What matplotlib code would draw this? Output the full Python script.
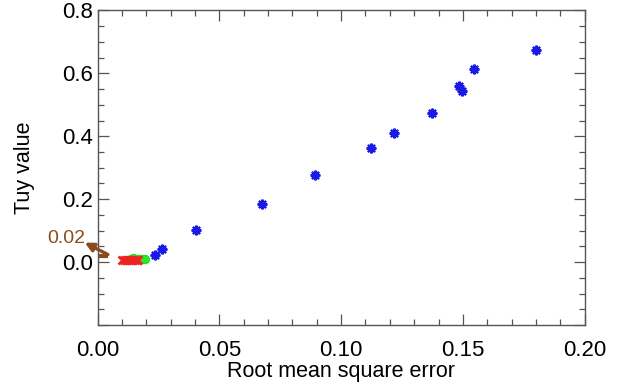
import matplotlib
matplotlib.use("Agg")
import matplotlib.pyplot as plt
from matplotlib.ticker import MultipleLocator, FixedLocator

plt.rcParams['font.family'] = ['Liberation Sans', 'DejaVu Sans']

# Data
blue_x = [0.180, 0.1546, 0.1483, 0.1497, 0.1372, 0.1217, 0.1121, 0.0894, 0.0674, 0.0405, 0.0264, 0.0234]
blue_y = [0.674, 0.615, 0.559, 0.544, 0.473, 0.410, 0.364, 0.278, 0.185, 0.102, 0.043, 0.023]
green_x = [0.0135, 0.0145, 0.0155, 0.0165, 0.0175, 0.0185, 0.0195]
green_y = [0.011, 0.012, 0.011, 0.010, 0.011, 0.010, 0.010]
red_x = [0.0100, 0.0108, 0.0115, 0.0122, 0.0130, 0.0137, 0.0145, 0.0152, 0.0160, 0.0167]
red_y = [0.007, 0.008, 0.007, 0.008, 0.007, 0.008, 0.007, 0.008, 0.007, 0.008]
x_ticks = [0.00, 0.05, 0.10, 0.15, 0.20]
x_ticklabels = ['0.00', '0.05', '0.10', '0.15', '0.20']
y_ticks = [0.0, 0.2, 0.4, 0.6, 0.8]
y_ticklabels = ['0.0', '0.2', '0.4', '0.6', '0.8']
mark_value = 0.02
mark_label = '0.02'

fig = plt.figure(figsize=(6.18, 3.86), dpi=100)
ax = fig.add_axes([0.158, 0.158, 0.788, 0.815])

brown = '#8C4B1C'
ax.plot(green_x, green_y, 'o', color='#22DD22', ms=5.5, mew=1.2, mfc='none', ls='none')
ax.plot(green_x, green_y, 'o', color='#22EE22', ms=3.5, ls='none')
ax.plot(red_x, red_y, 'x', color='#EE2222', ms=5.5, mew=1.8, ls='none')
ax.plot(blue_x, blue_y, marker=(8, 2, 0), color='#1A1AE6', ms=7, mew=1.6, ls='none')
ax.plot(blue_x, blue_y, 's', color='#1A1AE6', ms=3, ls='none')

ax.set_xlim(0, 0.2)
ax.set_ylim(-0.2, 0.8)
ax.xaxis.set_major_locator(FixedLocator(x_ticks))
ax.set_xticklabels(x_ticklabels)
ax.xaxis.set_minor_locator(MultipleLocator(0.01))
ax.yaxis.set_minor_locator(MultipleLocator(0.05))
ax.set_yticks([-0.2] + y_ticks)
ax.set_yticklabels([''] + y_ticklabels)
ax.tick_params(which='both', direction='in', top=True, right=True, colors='#555555',
               labelcolor='black', labelsize=16, width=0.9)
ax.tick_params(which='major', length=8)
ax.tick_params(axis='x', which='major', pad=11)
ax.tick_params(axis='y', which='major', pad=3)
ax.tick_params(which='minor', length=4)
for s in ax.spines.values():
    s.set_color('#555555')
    s.set_linewidth(1)

ax.set_xlabel('Root mean square error', fontsize=15.5, labelpad=0)
ax.set_ylabel('Tuy value', fontsize=15.5, labelpad=20)

# brown mark at 0.02
ax.plot([0.0006, 0.0044], [mark_value, mark_value], color=brown, lw=3, clip_on=False, solid_capstyle='butt')
ax.annotate('', xy=(-0.0053, 0.062), xytext=(0.0042, 0.024),
            arrowprops=dict(arrowstyle='-|>', color=brown, lw=2.4, mutation_scale=13, shrinkA=0, shrinkB=0),
            annotation_clip=False)
ax.text(-0.0127, 0.076, mark_label, color=brown, fontsize=14, ha='center', va='center', clip_on=False)

fig.savefig('out.png', dpi=100)
